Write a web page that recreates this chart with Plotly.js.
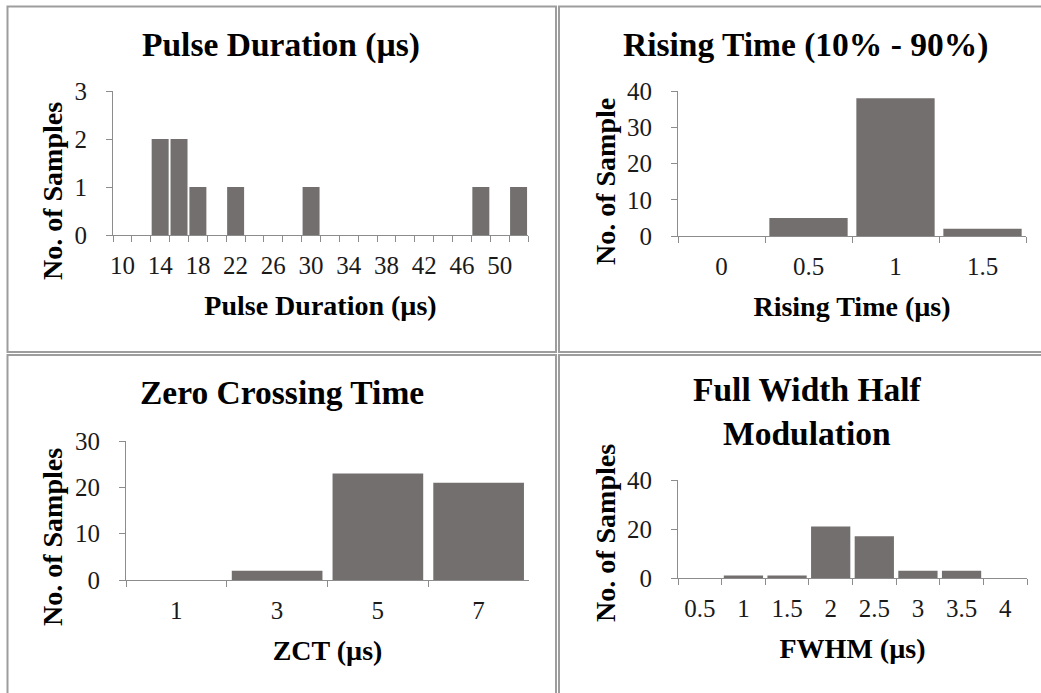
<!DOCTYPE html>
<html>
<head>
<meta charset="utf-8">
<script src="https://cdn.plot.ly/plotly-3.0.1.min.js"></script>
<style>html,body{margin:0;padding:0;background:#fff;}#chart{width:1041px;height:693px;}</style>
</head>
<body>
<div id="chart"></div>
<script>
// ---- Data ----
const pdCategories = ['10','12','14','16','18','20','22','24','26','28','30','32','34','36','38','40','42','44','46','48','50','52'];
const pdCounts     = [0,0,2,2,1,0,1,0,0,0,1,0,0,0,0,0,0,0,0,1,0,1];
const pdTickLabels = ['10','','14','','18','','22','','26','','30','','34','','38','','42','','46','','50',''];

const rtCategories = ['0','0.5','1','1.5'];
const rtCounts     = [0,5,38,2];

const zctCategories = ['1','3','5','7'];
const zctCounts     = [0,2,23,21];

const fwhmCategories = ['0.5','1','1.5','2','2.5','3','3.5','4'];
const fwhmCounts     = [0,1,1,21,17,3,3,0];

const chartTitles = ['Pulse Duration (µs)','Rising Time (10% - 90%)','Zero Crossing Time','Full Width Half<br>Modulation'];
const xTitles = ['Pulse Duration (µs)','Rising Time (µs)','ZCT (µs)','FWHM (µs)'];
const yTitles = ['No. of Samples','No. of Sample','No. of Samples','No. of Samples'];

// ---- Layout helpers ----
const W = 1041, H = 693;
const px = v => v / W;
const py = v => 1 - v / H;
const FONT = 'Liberation Serif, Times New Roman, DejaVu Serif, serif';
const BAR = '#736f6e';
const AXC = '#8c8c8c';

function xAxis(domain, cats, ticktext, title) {
  return {
    domain: domain, type: 'category', categoryorder: 'array', categoryarray: cats,
    tickmode: 'array', tickvals: cats, ticktext: ticktext, tickangle: 0,
    tickson: 'boundaries', ticks: 'outside', ticklen: 6, tickcolor: AXC, tickwidth: 1,
    showline: true, linecolor: AXC, linewidth: 1, showgrid: false, zeroline: false,
    ticklabelstandoff: 8,
    tickfont: {family: FONT, size: 25, color: '#1a1a1a'},
    title: {text: title, font: {family: FONT, size: 28, color: '#000', weight: 'bold'}, standoff: 17},
    fixedrange: true
  };
}
function yAxis(domain, max, dtick) {
  return {
    domain: domain, range: [0, max], dtick: dtick, tick0: 0,
    ticks: 'outside', ticklen: 6, tickcolor: AXC, tickwidth: 1,
    showline: true, linecolor: AXC, linewidth: 1, showgrid: false, zeroline: false,
    ticklabelstandoff: 14,
    tickfont: {family: FONT, size: 25, color: '#1a1a1a'},
    fixedrange: true
  };
}

const traces = [
  {type:'bar', x: pdCategories, y: pdCounts, xaxis:'x', yaxis:'y', marker:{color:BAR}, hoverinfo:'x+y'},
  {type:'bar', x: rtCategories, y: rtCounts, xaxis:'x2', yaxis:'y2', marker:{color:BAR}, hoverinfo:'x+y'},
  {type:'bar', x: zctCategories, y: zctCounts, xaxis:'x3', yaxis:'y3', marker:{color:BAR}, hoverinfo:'x+y'},
  {type:'bar', x: fwhmCategories, y: fwhmCounts, xaxis:'x4', yaxis:'y4', marker:{color:BAR}, hoverinfo:'x+y'}
];

const titlePos = [[281,45],[805,45],[282,392],[807,411]];
const yTitlePos = [[52,191],[605,182],[52,537],[605,533]];

const annotations = [];
chartTitles.forEach((t,i) => annotations.push({
  text: t, xref:'paper', yref:'paper', x: px(titlePos[i][0]), y: py(titlePos[i][1]),
  xanchor:'center', yanchor:'middle', showarrow:false,
  font:{family:FONT, size:33.5, color:'#000', weight:'bold'}
}));
yTitles.forEach((t,i) => annotations.push({
  text: t, xref:'paper', yref:'paper', x: px(yTitlePos[i][0]), y: py(yTitlePos[i][1]),
  xanchor:'center', yanchor:'middle', showarrow:false, textangle:-90,
  font:{family:FONT, size:28, color:'#000', weight:'bold'}
}));

const BC = '#9d9d9d';
function rect(x0,y0,x1,y1){return {type:'rect', xref:'paper', yref:'paper', x0:px(x0), x1:px(x1), y0:py(y0), y1:py(y1), line:{color:BC, width:2}, fillcolor:'rgba(0,0,0,0)', layer:'below'};}
const shapes = [rect(7.5,6.5,556,352), rect(559,6.5,1046,352), rect(7.5,355,556,698), rect(559,355,1046,698)];

const layout = {
  width: W, height: H, margin:{l:0,r:0,t:0,b:0}, paper_bgcolor:'#fff', plot_bgcolor:'rgba(0,0,0,0)',
  showlegend:false, bargap: 0.1, font:{family:FONT},
  xaxis:  xAxis([px(113), px(528)], pdCategories, pdTickLabels, xTitles[0]),
  yaxis:  yAxis([py(235), py(91)], 3, 1),
  xaxis2: xAxis([px(678), px(1026)], rtCategories, rtCategories, xTitles[1]),
  yaxis2: yAxis([py(236), py(91)], 40, 10),
  xaxis3: xAxis([px(126), px(529)], zctCategories, zctCategories, xTitles[2]),
  yaxis3: yAxis([py(580), py(441)], 30, 10),
  xaxis4: xAxis([px(678), px(1027)], fwhmCategories, fwhmCategories, xTitles[3]),
  yaxis4: yAxis([py(578), py(480)], 40, 20),
  annotations: annotations, shapes: shapes
};
layout.yaxis.anchor='x'; layout.xaxis.anchor='y';
layout.yaxis2.anchor='x2'; layout.xaxis2.anchor='y2';
layout.yaxis3.anchor='x3'; layout.xaxis3.anchor='y3';
layout.yaxis4.anchor='x4'; layout.xaxis4.anchor='y4';

Plotly.newPlot('chart', traces, layout, {displayModeBar:false, staticPlot:true});
</script>
</body>
</html>
